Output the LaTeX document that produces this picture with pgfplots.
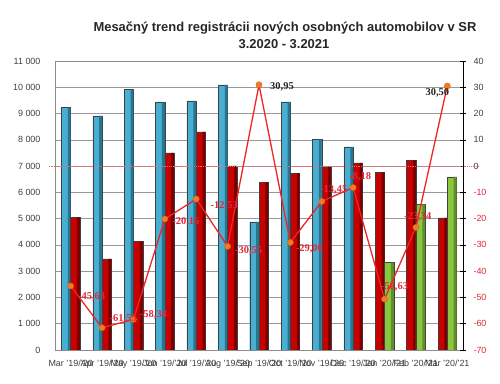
\documentclass[border=0pt]{standalone}
\usepackage{pgfplots}
\pgfplotsset{compat=1.18}
\usepackage{pgfplotstable}
\usepackage{fontspec}
\setmainfont{Liberation Sans}
\newfontfamily\lblfont{Liberation Serif}
\definecolor{blueM}{HTML}{48AED2}
\definecolor{blueR}{HTML}{287591}
\definecolor{redM}{HTML}{C80000}
\definecolor{redR}{HTML}{780000}
\definecolor{greenM}{HTML}{8CC63F}
\definecolor{greenR}{HTML}{5F8F28}
\definecolor{linered}{HTML}{F02424}
\definecolor{mkorange}{HTML}{F47A20}
\definecolor{labred}{HTML}{E4283A}
\definecolor{ticktxt}{HTML}{404040}

\pgfplotstableread{
x y lbl dx dy
1 -45.63 -45,63 21 -11
2 -61.55 -61,55 21 9
3 -58.34 -58,34 20 5
4 -20.16 -20,16 21 -3
5 -12.53 -12,53 28 -7
6 -30.55 -30,55 21 -4
8 -29.06 -29,06 19 -6
9 -13.45 -13,45 12 12
10 -8.18 -8,18 7 11
11 -50.63 -50,63 10 12
12 -23.34 -23,34 2 11
}\neglabels
\pgfplotstableread{
x y lbl dx dy
7 30.95 30,95 23 -2
13 30.50 30,50 -10 -7
}\poslabels

\pgfplotstableread{
x y
1 9230
2 8910
3 9910
4 9420
5 9480
6 10090
7 4880
8 9440
9 8020
10 7730
}\blueA
\pgfplotstableread{
x y
1 5050
2 3470
3 4140
4 7500
5 8300
6 7010
7 6380
8 6720
9 6970
10 7120
}\redA
\pgfplotstableread{
x y
11 6760
12 7220
13 5030
}\redB
\pgfplotstableread{
x y
11 3330
12 5550
13 6590
}\greenB

\begin{document}
\begin{tikzpicture}
\path[use as bounding box] (-55bp,-34bp) rectangle (445bp,350bp);
\node[font=\fontsize{13}{15}\selectfont\bfseries, text=black!85] at (230bp,322bp) {Mesačný trend registrácii nových osobných automobilov v SR};
\node[font=\fontsize{13}{15}\selectfont\bfseries, text=black!85] at (229bp,306bp) {3.2020 - 3.2021};
\begin{axis}[
  at={(0,0)}, anchor=south west, scale only axis,
  width=408bp, height=289bp,
  xmin=0.5, xmax=13.5, ymin=0, ymax=11000,
  scaled y ticks=false,
  xtick={1,...,13},
  xticklabels={Mar '19/'20,Apr '19/'20,May '19/'20,Jun '19/'20,Jul '19/'20,Aug '19/'20,Sep '19/'20,Oct '19/'20,Nov '19/'20,Dec '19/'20,Jan '20/'21,Feb '20/'21,Mar '20/'21},
  ytick={0,1000,...,11000},
  yticklabels={0,1 000,2 000,3 000,4 000,5 000,6 000,7 000,8 000,9 000,10 000,11 000},
  ymajorgrids, grid style={black!40, line width=0.6bp},
  axis line style={black!45, line width=0.6bp},
  major tick length=0pt,
  tick label style={font=\fontsize{9}{10}\selectfont, text=ticktxt},
  xticklabel style={yshift=-6bp},
  yticklabel style={xshift=-11bp},
  bartop/.style={ybar, bar width=0.296, draw=black!75, line width=0.4bp},
  barstrip/.style={ybar, bar width=0.09, draw=none},
]
% previous year (blue), left of Mar..Dec
\addplot[bartop, bar shift=-0.148, fill=blueM] table {\blueA};
\addplot[barstrip, bar shift=-0.046, fill=blueR] table {\blueA};
% 2020 (red)
\addplot[bartop, bar shift=0.148, fill=redM] table {\redA};
\addplot[barstrip, bar shift=0.249, fill=redR] table {\redA};
\addplot[bartop, bar shift=-0.148, fill=redM] table {\redB};
\addplot[barstrip, bar shift=-0.046, fill=redR] table {\redB};
% 2021 (green)
\addplot[bartop, bar shift=0.148, fill=greenM] table {\greenB};
\addplot[barstrip, bar shift=0.249, fill=greenR] table {\greenB};
\end{axis}
\begin{axis}[
  at={(0,0)}, anchor=south west, scale only axis,
  width=408bp, height=289bp,
  xmin=0.5, xmax=13.5, ymin=-70, ymax=40,
  axis x line=none, axis y line*=right,
  ytick={-70,-60,...,40},
  yticklabels={\textcolor{labred}{-70},\textcolor{labred}{-60},\textcolor{labred}{-50},\textcolor{labred}{-40},\textcolor{labred}{-30},\textcolor{labred}{-20},\textcolor{labred}{-10},0,10,20,30,40},
  tick align=center, major tick length=6bp,
  y axis line style={black, line width=0.8bp},
  ytick style={black, line width=0.6bp},
  tick label style={font=\fontsize{9}{10}\selectfont, text=ticktxt},
  yticklabel style={xshift=4bp},
  clip=false,
]
\addplot[labred!70, densely dotted, line width=0.8bp] coordinates {(0.3,0) (14.0,0)};
\addplot[linered, line width=1.3bp, mark=*, mark size=3.1bp,
  mark options={fill=mkorange, draw=mkorange!85!black, line width=0.3bp}]
  coordinates {(1,-45.63) (2,-61.55) (3,-58.34) (4,-20.16) (5,-12.53) (6,-30.55) (7,30.95) (8,-29.06) (9,-13.45) (10,-8.18) (11,-50.63) (12,-23.34) (13,30.50)};
\addplot[draw=none, mark=none, point meta=explicit symbolic,
  visualization depends on={\thisrow{dx} \as \ldx},
  visualization depends on={\thisrow{dy} \as \ldy},
  nodes near coords,
  every node near coord/.style={anchor=center, xshift=\ldx bp, yshift=\ldy bp,
    font=\lblfont\bfseries\fontsize{10.5}{12}\selectfont, text=labred, inner sep=0pt}]
  table[x=x, y=y, meta=lbl] {\neglabels};
\addplot[draw=none, mark=none, point meta=explicit symbolic,
  visualization depends on={\thisrow{dx} \as \ldx},
  visualization depends on={\thisrow{dy} \as \ldy},
  nodes near coords,
  every node near coord/.style={anchor=center, xshift=\ldx bp, yshift=\ldy bp,
    font=\lblfont\bfseries\fontsize{10.5}{12}\selectfont, text=black!85, inner sep=0pt}]
  table[x=x, y=y, meta=lbl] {\poslabels};
\end{axis}
\end{tikzpicture}
\end{document}
